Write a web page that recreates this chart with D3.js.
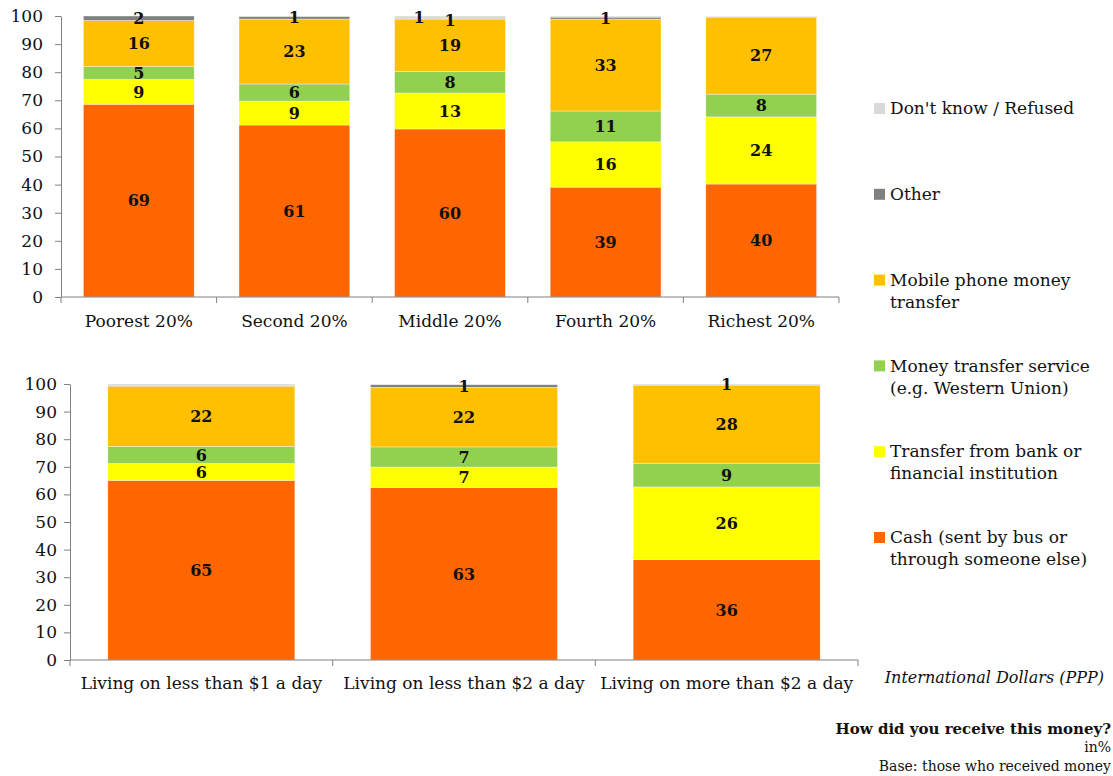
<!DOCTYPE html>
<html>
<head>
<meta charset="utf-8">
<script src="https://d3js.org/d3.v7.min.js"></script>
<style>
  body { margin: 0; background: #fff; }
  text { font-family: "DejaVu Serif", serif; fill: #111; }
</style>
</head>
<body>
<div id="chart"></div>
<script>

// categories
var incomeGroups = ["Poorest 20%", "Second 20%", "Middle 20%", "Fourth 20%", "Richest 20%"];
var dollarGroups = ["Living on less than $1 a day", "Living on less than $2 a day", "Living on more than $2 a day"];

// series values, top panel (income quintiles), in %
var cashTop   = [68.6, 61.2, 59.8, 39.1, 40.2];
var bankTop   = [8.8, 8.5, 12.8, 16.1, 23.9];
var mtsTop    = [4.6, 6.1, 7.6, 11.0, 8.1];
var mobileTop = [16.4, 23.1, 18.7, 32.7, 27.4];
var otherTop  = [1.6, 1.0, 0.3, 0.7, 0.1];
var dkTop     = [0.0, 0.1, 0.8, 0.4, 0.3];
var otherLabelsTop = ["2", "1", "1", "1", ""];
var dkLabelsTop    = ["", "", "1", "", ""];

// series values, bottom panel (international dollars), in %
var cashBottom   = [65.1, 62.5, 36.4];
var bankBottom   = [6.1, 7.4, 26.3];
var mtsBottom    = [6.2, 7.3, 8.6];
var mobileBottom = [21.8, 21.6, 28.3];
var otherBottom  = [0.3, 1.0, 0.0];
var dkBottom     = [0.5, 0.2, 0.4];
var otherLabelsBottom = ["", "1", ""];
var dkLabelsBottom    = ["", "", "1"];

var yTicks = [0, 10, 20, 30, 40, 50, 60, 70, 80, 90, 100];

// series names (stack order bottom -> top) and colours
var seriesKeys = ["cash", "bank", "mts", "mobile", "other", "dk"];
var seriesNames = {
  dk: ["Don't know / Refused"],
  other: ["Other"],
  mobile: ["Mobile phone money", "transfer"],
  mts: ["Money transfer service", "(e.g. Western Union)"],
  bank: ["Transfer from bank or", "financial institution"],
  cash: ["Cash (sent by bus or", "through someone else)"]
};
var colors = {
  cash: "#FF6600", bank: "#FFFF00", mts: "#92D050",
  mobile: "#FFC000", other: "#808080", dk: "#D9D9D9"
};
var legendOrder = ["dk", "other", "mobile", "mts", "bank", "cash"];

var W = 1113, H = 776;
var svg = d3.select("#chart").append("svg")
    .attr("width", W).attr("height", H);

function buildRows(cats, cash, bank, mts, mobile, other, dk, otherLab, dkLab) {
  return cats.map(function(c, i) {
    return { cat: c, cash: cash[i], bank: bank[i], mts: mts[i], mobile: mobile[i],
             other: other[i], dk: dk[i], otherLab: otherLab[i], dkLab: dkLab[i] };
  });
}

function panel(rows, x0, x1, yBottom, yTop, labelBase, tickPad) {
  var g = svg.append("g");
  var x = d3.scaleBand()
      .domain(rows.map(function(d){ return d.cat; }))
      .range([x0, x1])
      .paddingInner(0.288)
      .paddingOuter(0.144);
  var y = d3.scaleLinear().domain([0, 100]).range([yBottom, yTop]);

  var stacked = d3.stack().keys(seriesKeys)(rows);

  // bars
  g.selectAll("g.layer")
    .data(stacked)
    .enter().append("g")
    .attr("class", "layer")
    .attr("fill", function(d){ return colors[d.key]; })
    .selectAll("rect")
    .data(function(d){ return d; })
    .enter().append("rect")
    .attr("x", function(d){ return x(d.data.cat); })
    .attr("width", x.bandwidth())
    .attr("y", function(d){ return y(d[1]); })
    .attr("height", function(d){ return Math.max(0, y(d[0]) - y(d[1])); })
    .attr("stroke", "#ffffff")
    .attr("stroke-opacity", 0.6)
    .attr("stroke-width", 0.6);

  // value labels
  stacked.forEach(function(layer) {
    layer.forEach(function(d) {
      var txt;
      if (layer.key === "other") txt = d.data.otherLab;
      else if (layer.key === "dk") txt = d.data.dkLab;
      else txt = String(Math.round(d[1] - d[0]));
      if (!txt) return;
      var cx = x(d.data.cat) + x.bandwidth() / 2;
      if (layer.key === "dk" && d.data.otherLab) cx -= x.bandwidth() * 0.28;
      var cy = (y(d[0]) + y(d[1])) / 2;
      if (layer.key === "other" && d.data.dkLab) cy += 2;
      g.append("text")
        .attr("x", cx).attr("y", cy)
        .attr("dy", "0.36em")
        .attr("text-anchor", "middle")
        .style("font-weight", "bold")
        .style("font-size", "16px")
        .text(txt);
    });
  });

  // y axis
  var ya = g.append("g")
    .attr("transform", "translate(" + x0 + ",0)")
    .call(d3.axisLeft(y).tickValues(yTicks).tickSize(6).tickPadding(tickPad).tickSizeOuter(0));
  ya.select(".domain").attr("stroke", "#808080");
  ya.selectAll(".tick line").attr("stroke", "#808080");
  ya.selectAll(".tick text").style("font-size", "17px").style("font-family", "DejaVu Serif").attr("fill", "#111");

  // x axis line with ticks at band boundaries
  var xa = g.append("g").attr("transform", "translate(0," + yBottom + ")");
  xa.append("line")
    .attr("x1", x0).attr("x2", x1).attr("y1", 0).attr("y2", 0)
    .attr("stroke", "#808080");
  var step = x.step();
  d3.range(rows.length + 1).forEach(function(i) {
    var bx = x0 + i * step;
    xa.append("line")
      .attr("x1", bx).attr("x2", bx).attr("y1", 0).attr("y2", 6)
      .attr("stroke", "#808080");
  });
  xa.selectAll("text.cat")
    .data(rows)
    .enter().append("text")
    .attr("class", "cat")
    .attr("x", function(d){ return x(d.cat) + x.bandwidth() / 2; })
    .attr("y", labelBase - yBottom)
    .attr("text-anchor", "middle")
    .style("font-size", "17px")
    .text(function(d){ return d.cat; });
}

var topRows = buildRows(incomeGroups, cashTop, bankTop, mtsTop, mobileTop, otherTop, dkTop, otherLabelsTop, dkLabelsTop);
var bottomRows = buildRows(dollarGroups, cashBottom, bankBottom, mtsBottom, mobileBottom, otherBottom, dkBottom, otherLabelsBottom, dkLabelsBottom);

panel(topRows, 61, 839, 297, 16, 327, 12);
panel(bottomRows, 70, 858, 660, 384, 689, 7);

// legend
var legend = svg.append("g");
legendOrder.forEach(function(k, i) {
  var cy = 108 + i * 85.8;
  legend.append("rect")
    .attr("x", 874).attr("y", cy - 5)
    .attr("width", 11).attr("height", 11)
    .attr("fill", colors[k]);
  seriesNames[k].forEach(function(line, j) {
    legend.append("text")
      .attr("x", 890).attr("y", cy + j * 22)
      .attr("dy", "0.36em")
      .style("font-size", "17px")
      .text(line);
  });
});

// notes
svg.append("text")
  .attr("x", 1104).attr("y", 677).attr("dy", "0.36em")
  .attr("text-anchor", "end")
  .style("font-size", "16px").style("font-style", "italic")
  .text("International Dollars (PPP)");
svg.append("text")
  .attr("x", 1111).attr("y", 729).attr("dy", "0.36em")
  .attr("text-anchor", "end")
  .style("font-size", "15px").style("font-weight", "bold")
  .text("How did you receive this money?");
svg.append("text")
  .attr("x", 1111).attr("y", 747).attr("dy", "0.36em")
  .attr("text-anchor", "end")
  .style("font-size", "14px")
  .text("in%");
svg.append("text")
  .attr("x", 1111).attr("y", 766).attr("dy", "0.36em")
  .attr("text-anchor", "end")
  .style("font-size", "14px")
  .text("Base: those who received money");

</script>
</body>
</html>
